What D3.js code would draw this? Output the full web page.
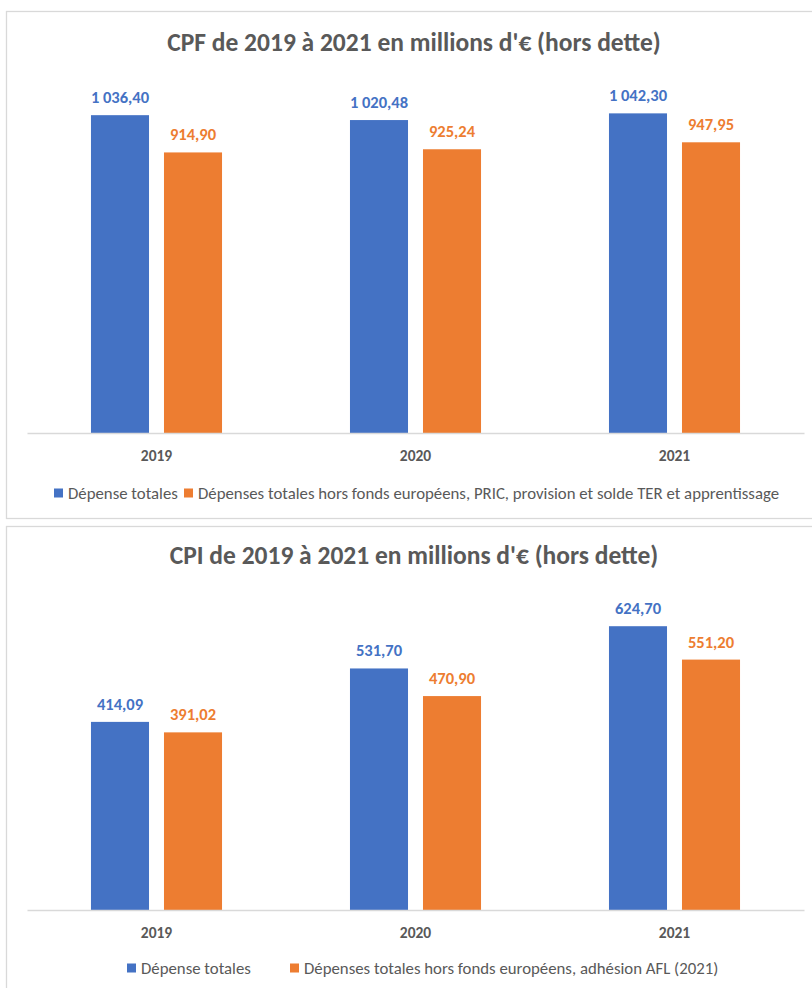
<!DOCTYPE html>
<html><head><meta charset="utf-8">
<script src="https://cdn.jsdelivr.net/npm/d3@7"></script>
<style>body{margin:0;background:#fff;} svg{display:block;}</style>
</head><body>
<svg id="c" width="812" height="988"></svg>
<script>
const years = ["2019", "2020", "2021"];
const seriesNames = ["total", "hors"];
const cpfTotal = [1036.40, 1020.48, 1042.30];
const cpfHors = [914.90, 925.24, 947.95];
const cpiTotal = [414.09, 531.70, 624.70];
const cpiHors = [391.02, 470.90, 551.20];
const cpfTitle = "CPF de 2019 à 2021 en millions d'€ (hors dette)";
const cpiTitle = "CPI de 2019 à 2021 en millions d'€ (hors dette)";
const cpfLegend = ["Dépense totales", "Dépenses totales hors fonds européens, PRIC, provision et solde TER et apprentissage"];
const cpiLegend = ["Dépense totales", "Dépenses totales hors fonds européens, adhésion AFL (2021)"];

const colors = {total: "#4472C4", hors: "#ED7D31"};
const FONT = "Carlito, Calibri, Lato, sans-serif";
const svg = d3.select("#c");
const fmt = v => {
  const s = v.toFixed(2).split(".");
  const int = s[0].replace(/\B(?=(\d{3})+(?!\d))/g, "\u00a0");
  return int + "," + s[1];
};

function chart(cfg) {
  const g = svg.append("g");
  g.append("rect").attr("x", 6.5).attr("y", cfg.boxY + 0.5).attr("width", 820).attr("height", cfg.boxH)
    .attr("fill", "#fff").attr("stroke", "#D9D9D9").attr("stroke-width", 1.3);
  g.append("text").attr("x", 414).attr("y", cfg.titleY).attr("text-anchor", "middle")
    .attr("font-family", FONT).attr("font-weight", "bold").attr("font-size", cfg.titleSize)
    .attr("fill", "#595959").text(cfg.title);

  const x0 = d3.scaleBand().domain(years).range([27, 804]).paddingInner(0.494).paddingOuter(0.247);
  const x1 = d3.scaleBand().domain(seriesNames).range([0, x0.bandwidth()]).paddingInner(0.205);
  const y = d3.scaleLinear().domain([0, cfg.max]).range([cfg.base, cfg.top]);

  const data = years.map((yr, i) => ({yr, vals: [{k: "total", v: cfg.total[i]}, {k: "hors", v: cfg.hors[i]}]}));
  const grp = g.selectAll(".grp").data(data).join("g").attr("transform", d => `translate(${x0(d.yr)},0)`);
  grp.selectAll("rect").data(d => d.vals).join("rect")
    .attr("x", d => x1(d.k)).attr("width", x1.bandwidth())
    .attr("y", d => y(d.v)).attr("height", d => y(0) - y(d.v)).attr("fill", d => colors[d.k]);
  grp.selectAll("text").data(d => d.vals).join("text")
    .attr("x", d => x1(d.k) + x1.bandwidth() / 2).attr("y", d => y(d.v) - 12)
    .attr("text-anchor", "middle").attr("font-family", FONT).attr("font-weight", "bold")
    .attr("font-size", 16.5).attr("fill", d => colors[d.k]).text(d => fmt(d.v));

  const ax = g.append("g").attr("transform", `translate(0,${cfg.base})`)
    .call(d3.axisBottom(x0).tickSize(0).tickPadding(17).tickSizeOuter(0));
  ax.select(".domain").attr("stroke", "#D9D9D9").attr("stroke-width", 1.3);
  ax.selectAll("text").attr("font-family", FONT).attr("font-weight", "bold").attr("font-size", 15.5).attr("fill", "#595959");

  const lg = g.append("g").attr("font-family", FONT).attr("font-size", 16.8).attr("fill", "#595959");
  cfg.legend.forEach((t, i) => {
    lg.append("rect").attr("x", cfg.legX[i]).attr("y", cfg.legY - 4.5).attr("width", 9).attr("height", 9).attr("fill", colors[seriesNames[i]]);
    lg.append("text").attr("x", cfg.legX[i] + 14).attr("y", cfg.legY + 5.5).text(t);
  });
}

chart({boxY: 11, boxH: 507, title: cpfTitle, titleY: 51, titleSize: 25.5, total: cpfTotal, hors: cpfHors,
  max: 1200, base: 433, top: 65, legend: cpfLegend, legX: [54, 184], legY: 493});
chart({boxY: 526, boxH: 500, title: cpiTitle, titleY: 564, titleSize: 25.5, total: cpiTotal, hors: cpiHors,
  max: 700, base: 910, top: 592, legend: cpiLegend, legX: [127, 290], legY: 968});
</script>
</body></html>
